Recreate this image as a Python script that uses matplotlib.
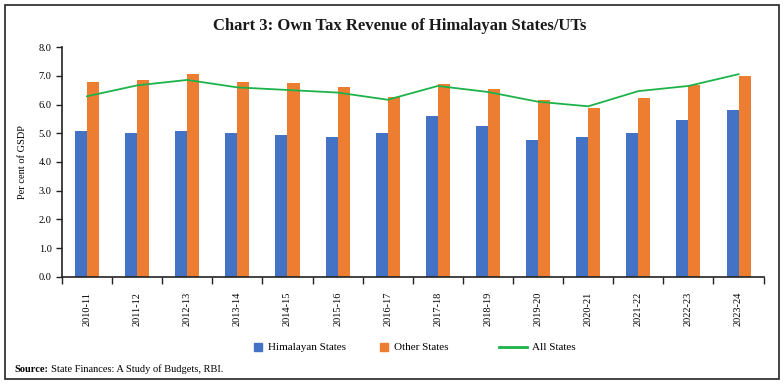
import numpy as np
import matplotlib.pyplot as plt
from matplotlib.patches import Rectangle
from matplotlib.lines import Line2D

plt.rcParams['font.family'] = ['Liberation Serif', 'DejaVu Serif']

years = ['2010-11', '2011-12', '2012-13', '2013-14', '2014-15', '2015-16', '2016-17',
         '2017-18', '2018-19', '2019-20', '2020-21', '2021-22', '2022-23', '2023-24']
himalayan = [5.09, 5.01, 5.09, 5.00, 4.95, 4.88, 5.01, 5.59, 5.24, 4.76, 4.86, 5.01, 5.46, 5.80]
other = [6.80, 6.86, 7.07, 6.79, 6.74, 6.60, 6.27, 6.73, 6.53, 6.16, 5.88, 6.24, 6.69, 6.99]
all_states = [6.29, 6.67, 6.86, 6.60, 6.51, 6.42, 6.17, 6.65, 6.44, 6.10, 5.94, 6.47, 6.65, 7.06]

blue = '#4472C4'
orange = '#ED7D31'
green = '#1DB34A'

fig = plt.figure(figsize=(7.84, 3.84), dpi=100)
ax = fig.add_axes([0.079, 0.2794, 0.895, 0.5976])

x = np.arange(len(years))
w = 0.24
ax.bar(x - w / 2, himalayan, w, color=blue)
ax.bar(x + w / 2, other, w, color=orange)
ax.plot(x, all_states, color=green, lw=1.3)

ax.set_xlim(-0.5, len(years) - 0.5)
ax.set_ylim(0, 8)
ax.set_yticks(np.arange(0, 8.1, 1.0))
ax.set_yticklabels([f'{v:.1f}' for v in np.arange(0, 8.1, 1.0)], fontsize=7.5)
ax.set_xticks(x)
ax.set_xticklabels(years, rotation=90, fontsize=7.5)
ax.tick_params(axis='x', length=0, pad=11)
ax.set_xticks(np.arange(-0.5, len(years), 1.0), minor=True)
ax.tick_params(axis='x', which='minor', length=5, width=1, color='#222222')
ax.tick_params(axis='y', length=4, width=1, color='#222222')
for s in ['top', 'right']:
    ax.spines[s].set_visible(False)
for s in ['left', 'bottom']:
    ax.spines[s].set_color('#222222')
    ax.spines[s].set_linewidth(1.2)
ax.set_ylabel('Per cent of GSDP', fontsize=7.5, labelpad=8)

fig.text(0.51, 0.932, 'Chart 3: Own Tax Revenue of Himalayan States/UTs',
         ha='center', va='center', fontsize=12, fontweight='bold', color='#1a1a1a')

# legend drawn by hand so the line key can be longer than the squares
W, H = 784, 384
ly = 1 - 347 / H
sq = 8
for px, col, label in [(254, blue, 'Himalayan States'), (380, orange, 'Other States')]:
    fig.patches.append(Rectangle((px / W, ly - sq / 2 / H), sq / W, sq / H,
                                 transform=fig.transFigure, color=col))
    fig.text((px + sq + 6) / W, ly, label, fontsize=8, ha='left', va='center')
fig.lines.append(Line2D([499 / W, 527 / W], [ly, ly], transform=fig.transFigure,
                        color=green, lw=2))
fig.text(532 / W, ly, 'All States', fontsize=8, ha='left', va='center')

fig.text(0.018, 0.032, 'Source:', fontsize=7.5, fontweight='bold',
         ha='left', va='baseline')
fig.text(0.018 + 37 / W, 0.032, 'State Finances: A Study of Budgets, RBI.',
         fontsize=7.5, ha='left', va='baseline')

fig.patches.append(Rectangle((0.006, 0.013), 0.987, 0.974, transform=fig.transFigure,
                             fill=False, edgecolor='#222222', lw=1.2))

fig.savefig('out.png', dpi=100)
